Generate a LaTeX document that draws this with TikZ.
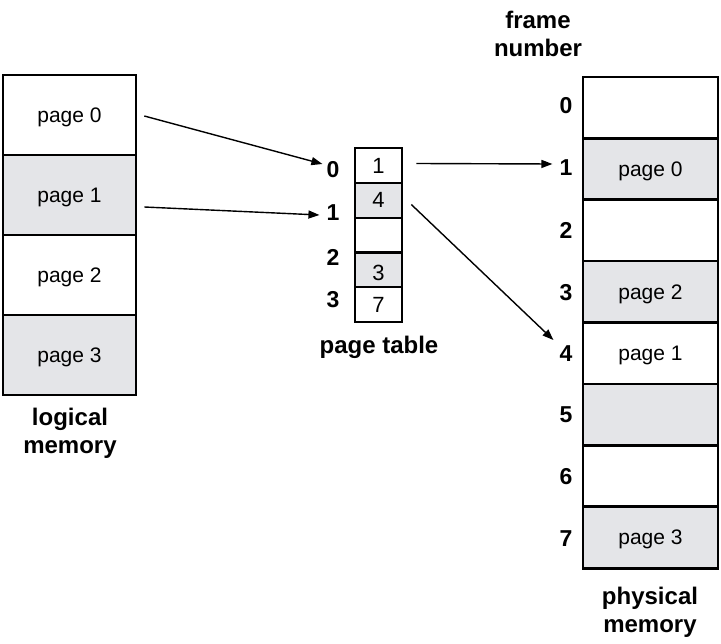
\documentclass[tikz,border=0pt]{standalone}
\usepackage{fontspec}
\setmainfont{Liberation Sans}
\usetikzlibrary{arrows.meta,calc}
\definecolor{cellgray}{RGB}{228,229,232}
\tikzset{
  cell/.style={draw=black, line width=2.6pt, minimum width=#1, inner sep=0pt, text depth=0pt, font=\fontsize{21}{23}\selectfont},
  lcell/.style={cell=133pt, minimum height=80pt},
  pcell/.style={cell=135pt, minimum height=61.4pt},
  tcell/.style={cell=47pt, minimum height=35pt, font=\fontsize{22}{24}\selectfont},
  shaded/.style={fill=cellgray},
  plain/.style={fill=white},
  idx/.style={font=\bfseries\fontsize{23}{25}\selectfont, inner sep=0pt},
  captxt/.style={font=\bfseries\fontsize{24}{28}\selectfont, align=center, inner sep=0pt},
  arr/.style={line width=1.4pt, -{Triangle[length=11pt,width=8pt]}}
}
\begin{document}
\begin{tikzpicture}[x=1pt,y=-1pt]
\useasboundingbox (0,0) rectangle (721,644);
% logical memory
\node[lcell,plain]  (lp0) at (69.5,115) {page 0};
\node[lcell,shaded] (lp1) at (69.5,195) {page 1};
\node[lcell,plain]  (lp2) at (69.5,275) {page 2};
\node[lcell,shaded] (lp3) at (69.5,355) {page 3};
\node[captxt] (lcap) at (70,433) {logical\\memory};
% page table
\node[tcell,plain]  (t0) at (378.5,165.5) {1};
\node[tcell,shaded] (t1) at (378.5,200.5) {\raisebox{1.5pt}{4}};
\node[tcell,plain]  (tx) at (378.5,235.5) {};
\node[tcell,shaded] (t2) at (378.5,270) {\raisebox{-5pt}{3}};
\node[tcell,plain]  (t3) at (378.5,304.5) {7};
\node[idx] (i0) at (333,170) {0};
\node[idx] (i1) at (333,213) {1};
\node[idx] (i2) at (333,257) {2};
\node[idx] (i3) at (333,300) {3};
\node[captxt] (tcap) at (379,347) {page table};
% physical memory
\node[pcell,plain]  (f0) at (650.5,107.7) {};
\node[pcell,shaded] (f1) at (650.5,169.1) {page 0};
\node[pcell,plain]  (f2) at (650.5,230.5) {};
\node[pcell,shaded] (f3) at (650.5,291.9) {page 2};
\node[pcell,plain]  (f4) at (650.5,353.3) {page 1};
\node[pcell,shaded] (f5) at (650.5,414.7) {};
\node[pcell,plain]  (f6) at (650.5,476.1) {};
\node[pcell,shaded] (f7) at (650.5,537.5) {page 3};
\foreach \k/\y in {0/106,1/168,2/230,3/293,4/354,5/415,6/477,7/539}
  \node[idx] (n\k) at (566,\y) {\k};
\node[captxt] (fcap) at (538,34) {frame\\number};
\node[captxt] (pcap) at (650,612) {physical\\memory};
% arrows
\coordinate (a0s) at ($(lp0.east)+(7,1)$);
\coordinate (a0e) at ($(i0.west)+(-4,-6)$);
\coordinate (a1s) at ($(lp1.east)+(7,12)$);
\coordinate (a1e) at ($(i1.west)+(-7,2)$);
\coordinate (a2s) at ($(t0.east)+(13,-2)$);
\coordinate (a2e) at ($(n1.west)+(-7,-4)$);
\coordinate (a3s) at ($(t1.east)+(8,4)$);
\coordinate (a3e) at ($(n4.west)+(-6,-14)$);
\draw[arr] (a0s) -- (a0e);
\draw[arr] (a1s) -- (a1e);
\draw[arr] (a2s) -- (a2e);
\draw[arr] (a3s) -- (a3e);
\end{tikzpicture}
\end{document}
